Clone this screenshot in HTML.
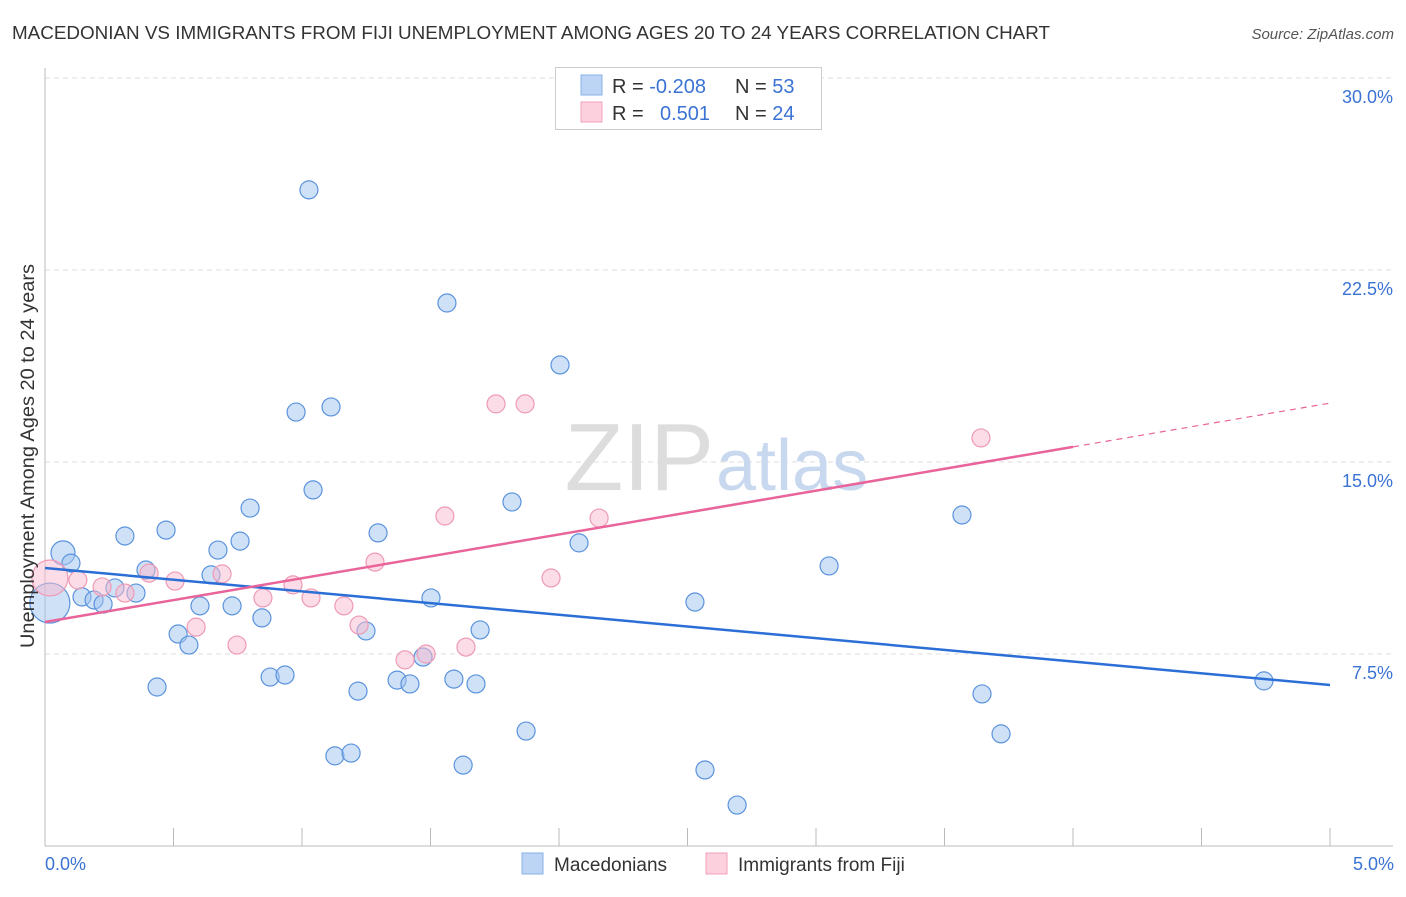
<!DOCTYPE html>
<html><head><meta charset="utf-8"><style>
body{margin:0;background:#fff;font-family:"Liberation Sans",sans-serif}
svg text{font-family:"Liberation Sans",sans-serif}
</style></head><body>
<svg id="chart" width="1406" height="892">
<text x="12" y="39" font-size="18" fill="#333" textLength="1038" lengthAdjust="spacingAndGlyphs">MACEDONIAN VS IMMIGRANTS FROM FIJI UNEMPLOYMENT AMONG AGES 20 TO 24 YEARS CORRELATION CHART</text>
<text x="1394" y="39" font-size="15" fill="#555" font-style="italic" text-anchor="end">Source: ZipAtlas.com</text>
<g id="grid"></g>
<text x="714" y="490" font-size="96" fill="#ddd" text-anchor="end" font-family="Liberation Serif">ZIP</text>
<text x="716" y="490" font-size="72" fill="#c8d8ee">atlas</text>
<g id="pts"></g>
<g id="lines"></g>
<text transform="translate(34,456) rotate(-90)" font-size="19" fill="#333" text-anchor="middle" textLength="384" lengthAdjust="spacingAndGlyphs">Unemployment Among Ages 20 to 24 years</text>
<text x="45" y="870" font-size="18" fill="#3b73d4">0.0%</text>
<text x="1394" y="870" font-size="18" fill="#3b73d4" text-anchor="end">5.0%</text>
<g>
<rect x="555.5" y="67.5" width="266" height="62" fill="#fff" stroke="#ccc"/>
<rect x="581" y="75" width="21" height="20" fill="#bcd5f5" stroke="#8ab0e8"/>
<rect x="581" y="102" width="21" height="20" fill="#fcd0dc" stroke="#f0a0b8"/>
<text x="612" y="93" font-size="20" fill="#333">R = <tspan fill="#3b73d4">-0.208</tspan></text>
<text x="735" y="93" font-size="20" fill="#333">N = <tspan fill="#3b73d4">53</tspan></text>
<text x="612" y="120" font-size="20" fill="#333">R = <tspan fill="#3b73d4" x="660">0.501</tspan></text>
<text x="735" y="120" font-size="20" fill="#333">N = <tspan fill="#3b73d4">24</tspan></text>
</g>
<g>
<rect x="522" y="853" width="21" height="21" fill="#bcd5f5" stroke="#8ab0e8"/>
<text x="554" y="871" font-size="19" fill="#333">Macedonians</text>
<rect x="706" y="853" width="21" height="21" fill="#fcd0dc" stroke="#f0a0b8"/>
<text x="738" y="871" font-size="19" fill="#333">Immigrants from Fiji</text>
</g>
</svg>
<script>
const yTicks=[7.5,15,22.5,30];
const xTicks=[0,0.5,1,1.5,2,2.5,3,3.5,4,4.5,5];
const blueX=[0.070,0.101,0.019,0.144,0.191,0.226,0.272,0.354,0.311,0.393,0.471,0.436,0.518,0.560,0.603,0.646,0.673,0.728,0.759,0.798,0.844,0.876,0.934,0.977,1.027,1.043,1.113,1.128,1.191,1.218,1.249,1.296,1.370,1.420,1.471,1.502,1.564,1.591,1.627,1.677,1.693,1.817,1.872,2.004,2.078,2.529,2.568,2.693,3.051,3.568,3.646,3.720,4.743];
const blueY=[11.45,11.05,9.49,9.73,9.61,9.45,10.08,9.88,12.11,10.78,12.34,6.21,8.28,7.85,9.38,10.59,11.56,9.38,11.91,13.20,8.91,6.60,6.68,16.95,25.63,13.91,17.15,3.52,3.63,6.05,8.40,12.23,6.48,6.33,7.38,9.69,21.21,6.52,3.16,6.33,8.44,13.44,4.49,18.79,11.84,9.53,2.97,1.60,10.94,12.93,5.94,4.38,6.45];
const blueSize=[12,9,20];
const pinkX=[0.019,0.128,0.222,0.311,0.405,0.506,0.588,0.689,0.747,0.848,0.965,1.035,1.163,1.222,1.284,1.401,1.483,1.556,1.638,1.755,1.868,1.969,2.156,3.642];
const pinkY=[10.47,10.39,10.12,9.88,10.66,10.35,8.55,10.63,7.85,9.69,10.20,9.69,9.38,8.63,11.09,7.27,7.50,12.89,7.77,17.27,17.27,10.47,12.81,15.94];
const pinkSize=[18];
const blueTrend=[10.86,6.29];
const pinkTrend=[8.75,17.3];
const X=v=>45+v/5*1285, Y=v=>846-v/7.5*192;
const NS="http://www.w3.org/2000/svg";
function mk(t,a,p){const e=document.createElementNS(NS,t);for(const k in a)e.setAttribute(k,a[k]);p.appendChild(e);return e;}
const g=document.getElementById('grid');
yTicks.forEach(t=>{const l=mk('line',{x1:45,x2:1393,y1:Y(t),y2:Y(t),stroke:'#ddd','stroke-dasharray':'5,4'},g);


const tx=mk('text',{x:1393,y:Y(t)+25,'font-size':18,fill:'#3b73d4','text-anchor':'end'},g);tx.textContent=t.toFixed(1)+'%';

});
const ax=mk('line',{x1:45,x2:1393,y1:846,y2:846,stroke:'#bbb'},g);


const ay=mk('line',{x1:45,x2:45,y1:68,y2:846,stroke:'#bbb'},g);


xTicks.forEach(t=>{const l=mk('line',{x1:X(t),x2:X(t),y1:828,y2:846,stroke:'#bbb'},g);

});
const pg=document.getElementById('pts');
blueX.forEach((x,i)=>{const c=mk('circle',{cx:X(x),cy:Y(blueY[i]),r:blueSize[i]||9,fill:'rgba(160,195,240,0.5)',stroke:'#5b93dd','stroke-width':1.2},pg);

});
pinkX.forEach((x,i)=>{const c=mk('circle',{cx:X(x),cy:Y(pinkY[i]),r:pinkSize[i]||9,fill:'rgba(250,185,205,0.5)',stroke:'#ef9ab5','stroke-width':1.2},pg);

});
const lg=document.getElementById('lines');
const bl=mk('line',{x1:X(0),y1:Y(blueTrend[0]),x2:X(5),y2:Y(blueTrend[1]),stroke:'#2b6fd6','stroke-width':2.5},lg);


const pm=v=>pinkTrend[0]+(pinkTrend[1]-pinkTrend[0])*v/5;
const pl=mk('line',{x1:X(0),y1:Y(pm(0)),x2:X(4),y2:Y(pm(4)),stroke:'#e8649a','stroke-width':2.5},lg);


const pd=mk('line',{x1:X(4),y1:Y(pm(4)),x2:X(5),y2:Y(pm(5)),stroke:'#e8649a','stroke-width':1.2,'stroke-dasharray':'6,5'},lg);


</script>
</body></html>
